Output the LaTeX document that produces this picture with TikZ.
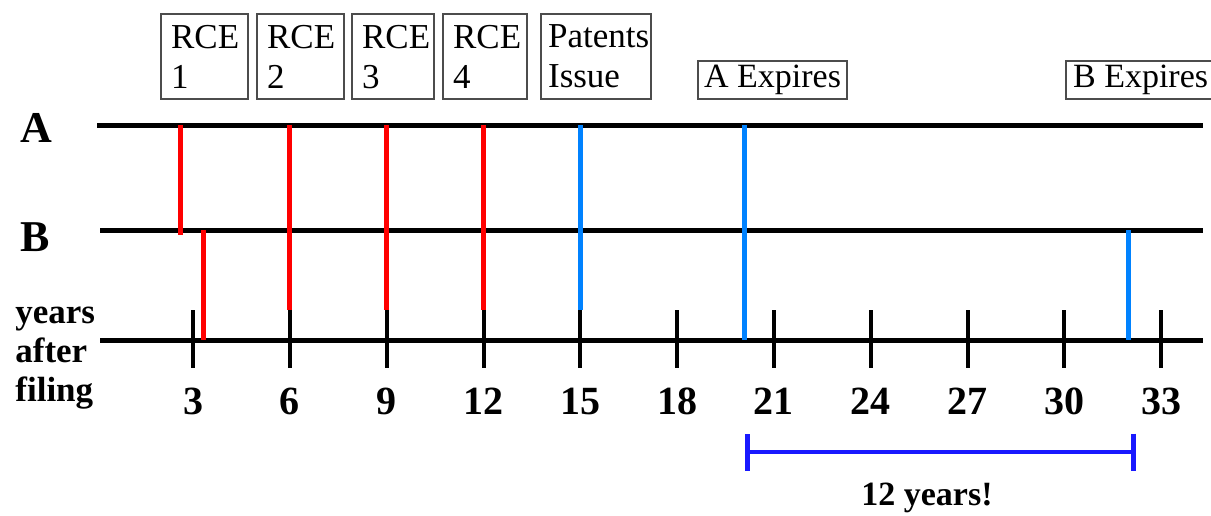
\documentclass[tikz,border=0pt]{standalone}
\usepackage{fontspec}
\setmainfont{Liberation Serif}
\usetikzlibrary{arrows.meta}
\definecolor{issueblue}{RGB}{0,130,255}
\definecolor{spanblue}{RGB}{25,25,255}

\begin{document}
\begin{tikzpicture}[x=0.5pt, y=-0.5pt,
		track/.style={line width=2.5pt},
		yeartick/.style={line width=2pt},
		rceline/.style={red, line width=2.5pt},
		issueline/.style={issueblue, line width=2.5pt},
		rcebox/.style={draw=black!70, line width=1.1pt, anchor=north west, align=left, text width=#1,
			minimum height=42.5pt, inner xsep=5pt, inner ysep=1pt, font=\fontsize{17.5}{20}\selectfont},
		expbox/.style={draw=black!70, line width=1.1pt, anchor=north west, minimum width=#1,
			minimum height=19pt, inner xsep=3pt, inner ysep=1pt, font=\fontsize{17}{20}\selectfont},
		rowlbl/.style={font=\fontsize{22}{24}\selectfont\bfseries},
		yearlbl/.style={font=\fontsize{20}{22}\selectfont\bfseries}]
		\useasboundingbox (0,0) rectangle (1211,515);
		
		\coordinate (A0) at (97,125);
		\coordinate (A1) at (1203,125);
		\coordinate (B0) at (100,230);
		\coordinate (B1) at (1203,230);
		\coordinate (T0) at (100,340);
		\coordinate (T1) at (1203,340);
		
		\node[rcebox=33.5pt] (rce1) at (160,13) {RCE\\1};
		\node[rcebox=33.5pt] (rce2) at (256,13) {RCE\\2};
		\node[rcebox=31pt] (rce3) at (351,13) {RCE\\3};
		\node[rcebox=32pt] (rce4) at (442,13) {RCE\\4};
		\node[rcebox=48pt, inner xsep=3.5pt] (issue) at (540,13) {Patents\\Issue};
		\node[expbox=74.5pt] (expA) at (697,60) {A Expires};
		\node[expbox=74.5pt] (expB) at (1065,60) {B Expires};
		
		\node[rowlbl] (labA) at (36,128) {A};
		\node[rowlbl] (labB) at (35,237) {B};
		\node[anchor=west, align=left, inner sep=0pt, font=\fontsize{17.5}{19.5}\selectfont\bfseries] (yrs) at (15,358) {years\\after\\filing};
		
		\draw[track] (A0) -- (A1);
		\draw[track] (B0) -- (B1);
		\draw[track] (T0) -- (T1);
		
		\foreach \y in {3,6,...,33} {
			\coordinate (t\y) at ({96.3+32.27*\y},340);
			\draw[yeartick] (t\y) ++(0,-30) -- ++(0,58);
			\node[yearlbl] (n\y) at ({96.3+32.27*\y},401) {\y};
		}
		
		\draw[rceline] (180,125) -- (180,235);
		\draw[rceline] (203,230) -- (203,340);
		\foreach \x in {289.6,386.4,483.2}
			\draw[rceline] (\x,125) -- (\x,310);
		\draw[issueline] (580,125) -- (580,310);
		\draw[issueline] (744,125) -- (744,340);
		\draw[issueline] (1128,230) -- (1128,340);
		
		\coordinate (S0) at (745,452);
		\coordinate (S1) at (1136,452);
		\draw[spanblue, line width=2pt, {Bar[width=18.5pt, line width=2.5pt]}-{Bar[width=18.5pt, line width=2.5pt]}] (S0) -- (S1);
		\node[font=\fontsize{17}{20}\selectfont\bfseries] (span) at (927,498) {12 years!};
	\end{tikzpicture}
\end{document}
